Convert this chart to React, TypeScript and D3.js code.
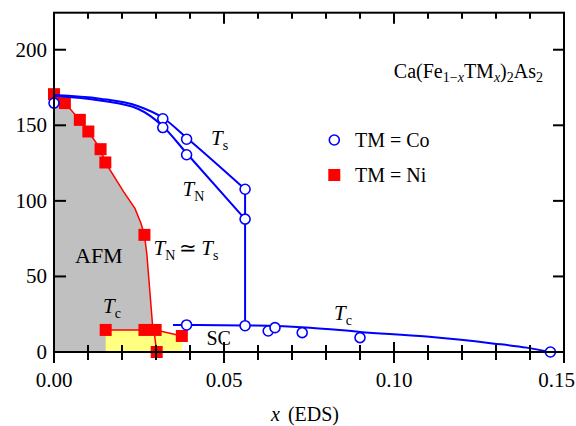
import React from 'react';
import * as d3 from 'd3';

// Ca(Fe1-xTMx)2As2 phase diagram: transition temperatures vs. composition x

// TM = Co: structural / magnetic transitions (Ts, TN)
const coPhaseX = [0.0, 0.032, 0.032, 0.039, 0.039, 0.0562, 0.0562];
const coPhaseT = [164.7, 154.3, 148.5, 140.8, 130.5, 107.7, 87.9];
// TM = Co: superconducting Tc
const coScX = [0.039, 0.0562, 0.063, 0.065, 0.073, 0.09, 0.146];
const coScT = [17.9, 17.4, 13.9, 16.1, 12.8, 9.5, 0];

// TM = Ni: TN ≃ Ts and Tc
const niX = [0.0, 0.0032, 0.0076, 0.0101, 0.0137, 0.0151, 0.0266, 0.0152, 0.0266, 0.0299, 0.0376, 0.0302];
const niT = [170.6, 164.7, 153.6, 145.9, 134.2, 125.4, 77.5, 14.6, 14.6, 14.6, 10.6, 0];

// Guide lines (x, T)
const coTsGuide: [number, number][] = [[0, 170], [0.0135, 167.6], [0.0248, 162.6], [0.032, 155.0], [0.039, 141.8], [0.0562, 107.7]];
const coTnGuide: [number, number][] = [[0, 169.6], [0.0135, 166.4], [0.0248, 160.8], [0.032, 149.4], [0.039, 131.5], [0.0562, 87.9]];
const coDropGuide: [number, number][] = [[0.0562, 107.7], [0.0562, 17.4]];
const coTcGuide: [number, number][] = [[0.035, 17.9], [0.0562, 17.6], [0.0753, 16.1], [0.09, 13.3], [0.1096, 10.2], [0.129, 5.7], [0.139, 2.9], [0.146, 0]];
const niTnGuide: [number, number][] = [[0, 170.6], [0.0032, 164.7], [0.0076, 153.6], [0.0101, 145.9], [0.0137, 134.2], [0.0151, 125.4], [0.0205, 106], [0.0238, 95], [0.0256, 85], [0.0266, 77.5], [0.0273, 65], [0.029, 17.5], [0.0294, 14.6], [0.0302, 0]];
const niTcGuide: [number, number][] = [[0.0152, 14.6], [0.0299, 14.6], [0.0376, 10.6]];

const xTicks = [0, 0.05, 0.1, 0.15];
const xTickLabels = ['0.00', '0.05', '0.10', '0.15'];
const yTicks = [0, 50, 100, 150, 200];

const W = 576;
const H = 426;
const FONT = "'Liberation Serif', 'Times New Roman', Times, serif";

export default function App() {
  const x = d3.scaleLinear().domain([0, 0.15]).range([54, 564]);
  const y = d3.scaleLinear().domain([0, 224.5]).range([352, 12.7]);

  const smooth = d3.line<[number, number]>().x(d => x(d[0])).y(d => y(d[1])).curve(d3.curveMonotoneX);
  const straight = d3.line<[number, number]>().x(d => x(d[0])).y(d => y(d[1]));

  const afmArea: [number, number][] = [...niTnGuide, [0, 0]];
  const scArea: [number, number][] = [[0.0152, 0], ...niTcGuide, [0.0376, 0]];

  const minor = d3.range(0, 16).map(i => i * 0.01);
  const left = x(0), right = x(0.15), top = y(224.5), bottom = y(0);

  const blue = '#0000ff';
  const red = '#ff0000';

  return (
    <svg width={W} height={H} style={{ position: 'absolute', left: 0, top: 0, background: '#fff', fontFamily: FONT }}>
      {/* AFM and SC regions */}
      <path d={straight(afmArea) + 'Z'} fill="#c0c0c0" />
      <path d={straight(scArea) + 'Z'} fill="#ffff80" />

      {/* Ni guide lines */}
      <path d={straight(niTnGuide)!} fill="none" stroke={red} strokeWidth={1.5} />
      <path d={straight(niTcGuide)!} fill="none" stroke={red} strokeWidth={1.5} />

      {/* Ni points */}
      {niX.map((v, i) => (
        <rect key={'ni' + i} x={x(v) - 6} y={y(niT[i]) - 6} width={12} height={12} fill={red} />
      ))}

      {/* Co guide lines */}
      <path d={smooth(coTsGuide)!} fill="none" stroke={blue} strokeWidth={2} />
      <path d={smooth(coTnGuide)!} fill="none" stroke={blue} strokeWidth={2} />
      <path d={straight(coDropGuide)!} fill="none" stroke={blue} strokeWidth={2} />
      <path d={smooth(coTcGuide)!} fill="none" stroke={blue} strokeWidth={2} />

      {/* Co points */}
      {coPhaseX.map((v, i) => (
        <circle key={'cp' + i} cx={x(v)} cy={y(coPhaseT[i])} r={5} fill="#fff" stroke={blue} strokeWidth={1.6} />
      ))}
      {coScX.map((v, i) => (
        <circle key={'cs' + i} cx={x(v)} cy={y(coScT[i])} r={5} fill="#fff" stroke={blue} strokeWidth={1.6} />
      ))}

      {/* Frame */}
      <rect x={left} y={top} width={right - left} height={bottom - top} fill="none" stroke="#000" strokeWidth={2} />

      {/* x ticks: bottom crossing the axis, top inward */}
      {minor.map((v, i) => {
        const major = i % 5 === 0;
        return (
          <g key={'xt' + i}>
            <line x1={x(v)} x2={x(v)} y1={bottom - (major ? 10 : 7)} y2={bottom + (major ? 11 : 8)} stroke="#000" strokeWidth={2} />
            <line x1={x(v)} x2={x(v)} y1={top} y2={top + (major ? 11 : 6)} stroke="#000" strokeWidth={2} />
          </g>
        );
      })}
      {xTicks.map((v, i) => {
        const last = i === xTicks.length - 1;
        return (
          <text key={'xl' + i} x={last ? W - 1 : x(v)} y={386.5} textAnchor={last ? 'end' : 'middle'} fontSize={21}>
            {xTickLabels[i]}
          </text>
        );
      })}

      {/* y ticks */}
      {yTicks.map(v => (
        <g key={'yt' + v}>
          <line x1={left} x2={left + 12} y1={y(v)} y2={y(v)} stroke="#000" strokeWidth={2} />
          <line x1={right - 11} x2={right} y1={y(v)} y2={y(v)} stroke="#000" strokeWidth={2} />
          <text x={47} y={y(v) + 7} textAnchor="end" fontSize={21}>{v}</text>
        </g>
      ))}

      {/* Axis title */}
      <text x={305} y={421} textAnchor="middle" fontSize={20}>
        <tspan fontStyle="italic">x</tspan>
        <tspan dx={8}>(EDS)</tspan>
      </text>

      {/* Compound formula */}
      <text x={543} y={78.3} textAnchor="end" fontSize={20}>
        Ca(Fe<tspan fontSize={14} dy={4}>1−</tspan><tspan fontSize={14} fontStyle="italic">x</tspan>
        <tspan dy={-4}>TM</tspan><tspan fontSize={14} fontStyle="italic" dy={4}>x</tspan>
        <tspan dy={-4}>)</tspan><tspan fontSize={14} dy={4}>2</tspan>
        <tspan dy={-4}>As</tspan><tspan fontSize={14} dy={4}>2</tspan>
      </text>

      {/* Legend */}
      <circle cx={334.3} cy={140} r={5} fill="#fff" stroke={blue} strokeWidth={1.6} />
      <text x={355} y={147.3} fontSize={20}>TM = Co</text>
      <rect x={334.3 - 6} y={175 - 6} width={12} height={12} fill={red} />
      <text x={355} y={181.5} fontSize={20}>TM = Ni</text>

      {/* Region and curve labels */}
      <text x={75} y={263} fontSize={22}>AFM</text>
      <text x={206.5} y={345} fontSize={20}>SC</text>

      <text x={211} y={145} fontSize={21}>
        <tspan fontStyle="italic">T</tspan><tspan fontSize={14} dy={5}>s</tspan>
      </text>
      <text x={182.5} y={196} fontSize={21}>
        <tspan fontStyle="italic">T</tspan><tspan fontSize={14} dy={5}>N</tspan>
      </text>
      <text x={153.5} y={255} fontSize={21}>
        <tspan fontStyle="italic">T</tspan><tspan fontSize={14} dy={5}>N</tspan>
        <tspan dy={-5} dx={4}>≃</tspan>
        <tspan dx={4} fontStyle="italic">T</tspan><tspan fontSize={14} dy={5}>s</tspan>
      </text>
      <text x={103} y={313} fontSize={21}>
        <tspan fontStyle="italic">T</tspan><tspan fontSize={14} dy={5}>c</tspan>
      </text>
      <text x={334} y={320} fontSize={21}>
        <tspan fontStyle="italic">T</tspan><tspan fontSize={14} dy={5}>c</tspan>
      </text>
    </svg>
  );
}
